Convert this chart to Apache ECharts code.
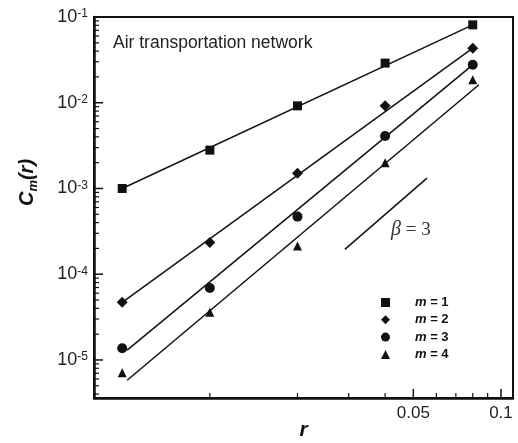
<!DOCTYPE html>
<html>
<head>
<meta charset="utf-8">
<script src="https://cdn.jsdelivr.net/npm/echarts@6/dist/echarts.min.js"></script>
<style>
  html, body { margin: 0; padding: 0; background: #fff; }
  #chart { width: 518px; height: 443px; }
</style>
</head>
<body>
<div id="chart"></div>
<script>
// box sizes r
const rValues = [0.005, 0.01, 0.02, 0.04, 0.08]

// C_m(r)
const m1 = [1.0e-3, 2.8e-3, 9.2e-3, 2.9e-2, 8.1e-2]
const m2 = [4.7e-5, 2.34e-4, 1.51e-3, 9.2e-3, 4.33e-2]
const m3 = [1.37e-5, 6.9e-5, 4.7e-4, 4.1e-3, 2.77e-2]
const m4 = [7.1e-6, 3.6e-5, 2.13e-4, 2.0e-3, 1.85e-2]

// fitted straight lines (end points)
const fit1 = [[0.005, 1.0e-3], [0.08, 8.1e-2]]
const fit2 = [[0.005, 4.7e-5], [0.08, 4.33e-2]]
const fit3 = [[0.0052, 1.3e-5], [0.08, 2.77e-2]]
const fit4 = [[0.0052, 5.8e-6], [0.084, 1.62e-2]]
const betaLine = [[0.0291, 1.95e-4], [0.0557, 1.32e-3]]

// axis ranges and ticks
const xRange = [0.004, 0.11]
const yRange = [3.6e-6, 0.1]
const xMajorTicks = [0.05, 0.1]
const xMinorTicks = [0.01, 0.02, 0.03, 0.04, 0.06, 0.07, 0.08, 0.09]
const yMajorTicks = [1e-5, 1e-4, 1e-3, 1e-2, 1e-1]
const yMinorTicks = []
;[1e-6, 1e-5, 1e-4, 1e-3, 1e-2].forEach(d => {
  for (let k = 2; k <= 9; k++) {
    if (k * d >= yRange[0]) yMinorTicks.push(k * d)
  }
})

const seriesNames = ['m = 1', 'm = 2', 'm = 3', 'm = 4']
const symbols = ['rect', 'diamond', 'circle', 'triangle']
const symbolSizes = [9, 11, 10, 9]
const seriesData = [m1, m2, m3, m4]
const fits = [fit1, fit2, fit3, fit4]

const chart = echarts.init(document.getElementById('chart'))
const font = 'Liberation Sans, Arial, sans-serif'

// inside tick marks drawn through the axis scales
const tickSeries = (values, dir, len, width) => ({
  type: 'custom', silent: true, clip: false, z: 5,
  data: values.map(v => dir === 'x' ? [v, yRange[0]] : [xRange[0], v]),
  renderItem: (params, api) => {
    const p = api.coord([api.value(0), api.value(1)])
    const shape = dir === 'x'
      ? { x1: p[0], y1: p[1], x2: p[0], y2: p[1] - len }
      : { x1: p[0], y1: p[1], x2: p[0] + len, y2: p[1] }
    return { type: 'line', shape, style: { stroke: '#111', lineWidth: width } }
  }
})

const option = {
  animation: false,
  backgroundColor: '#fff',
  grid: {
    left: 94, top: 17, right: 5, bottom: 45, containLabel: false, outerBoundsMode: 'none',
    show: true, borderColor: '#111', borderWidth: 2, backgroundColor: 'transparent'
  },
  xAxis: {
    type: 'log', min: xRange[0], max: xRange[1], position: 'bottom',
    axisLine: { show: true, lineStyle: { color: '#111', width: 2.5 } },
    axisTick: { show: false },
    axisLabel: {
      customValues: xMajorTicks, margin: 7, color: '#222', fontSize: 17, fontFamily: font,
      formatter: v => String(+(+v).toPrecision(3))
    },
    splitLine: { show: false }, minorTick: { show: false },
    name: 'r', nameLocation: 'middle', nameGap: 22, nameMoveOverlap: false,
    nameTextStyle: { fontSize: 21, fontWeight: 'bold', fontStyle: 'italic', color: '#111', fontFamily: font }
  },
  yAxis: {
    type: 'log', min: yRange[0], max: yRange[1],
    axisLine: { show: true, lineStyle: { color: '#111', width: 2.5 } },
    axisTick: { show: false },
    axisLabel: {
      customValues: yMajorTicks, margin: 6, color: '#222', fontFamily: font,
      formatter: v => '{b|10}{s|' + Math.round(Math.log10(v)) + '}',
      rich: {
        b: { fontSize: 18, fontFamily: font, color: '#222', lineHeight: 18 },
        s: { fontSize: 12, fontFamily: font, color: '#222', verticalAlign: 'top', lineHeight: 18 }
      }
    },
    splitLine: { show: false }, minorTick: { show: false },
    name: '{c|C}{s|m}{c|(r)}', nameLocation: 'middle', nameRotate: 90, nameGap: 54, nameMoveOverlap: false,
    nameTextStyle: {
      padding: [0, 0, 0, 50],
      rich: {
        c: { fontSize: 20, fontWeight: 'bold', fontStyle: 'italic', color: '#111', fontFamily: font },
        s: { fontSize: 13, fontWeight: 'bold', fontStyle: 'italic', color: '#111', fontFamily: font, verticalAlign: 'bottom', lineHeight: 26 }
      }
    }
  },
  legend: {
    orient: 'vertical', left: 376, top: 291,
    itemWidth: 9, itemHeight: 9, itemGap: 4.3,
    data: seriesNames,
    formatter: name => '{i|m}{b| = ' + name.slice(-1) + '}',
    textStyle: {
      color: '#111', fontSize: 13, fontWeight: 'bold', fontFamily: font, lineHeight: 13,
      rich: {
        i: { fontSize: 13, fontWeight: 'bold', fontStyle: 'italic', fontFamily: font, color: '#111', padding: [0, 0, 0, 20] },
        b: { fontSize: 13, fontWeight: 'bold', fontFamily: font, color: '#111' }
      }
    }
  },
  graphic: [
    {
      type: 'text', left: 113, top: 34,
      style: { text: 'Air transportation network', font: '17.5px ' + font, fill: '#222' }
    },
    {
      type: 'text', x: 391, y: 230,
      style: {
        text: '{g|β}{n| = 3}', verticalAlign: 'middle',
        rich: {
          g: { fontSize: 20, fontStyle: 'italic', fontFamily: 'Liberation Serif, Times New Roman, serif', fill: '#333' },
          n: { fontSize: 19, fontFamily: 'Liberation Serif, Times New Roman, serif', fill: '#333' }
        }
      }
    }
  ],
  series: [
    tickSeries(xMajorTicks, 'x', 9, 1.5),
    tickSeries(xMinorTicks, 'x', 5, 1.2),
    tickSeries(yMajorTicks, 'y', 9, 1.5),
    tickSeries(yMinorTicks, 'y', 5, 1.2),
    ...fits.map(f => ({
      type: 'line', data: f, symbol: 'none', silent: true,
      lineStyle: { color: '#111', width: 1.5 }
    })),
    {
      type: 'line', data: betaLine, symbol: 'none', silent: true,
      lineStyle: { color: '#111', width: 1.5 }
    },
    ...seriesData.map((vals, i) => ({
      name: seriesNames[i], type: 'scatter',
      symbol: symbols[i], symbolSize: symbolSizes[i],
      itemStyle: { color: '#111', opacity: 1 },
      data: rValues.map((r, j) => [r, vals[j]])
    }))
  ]
}

chart.setOption(option)
</script>
</body>
</html>
